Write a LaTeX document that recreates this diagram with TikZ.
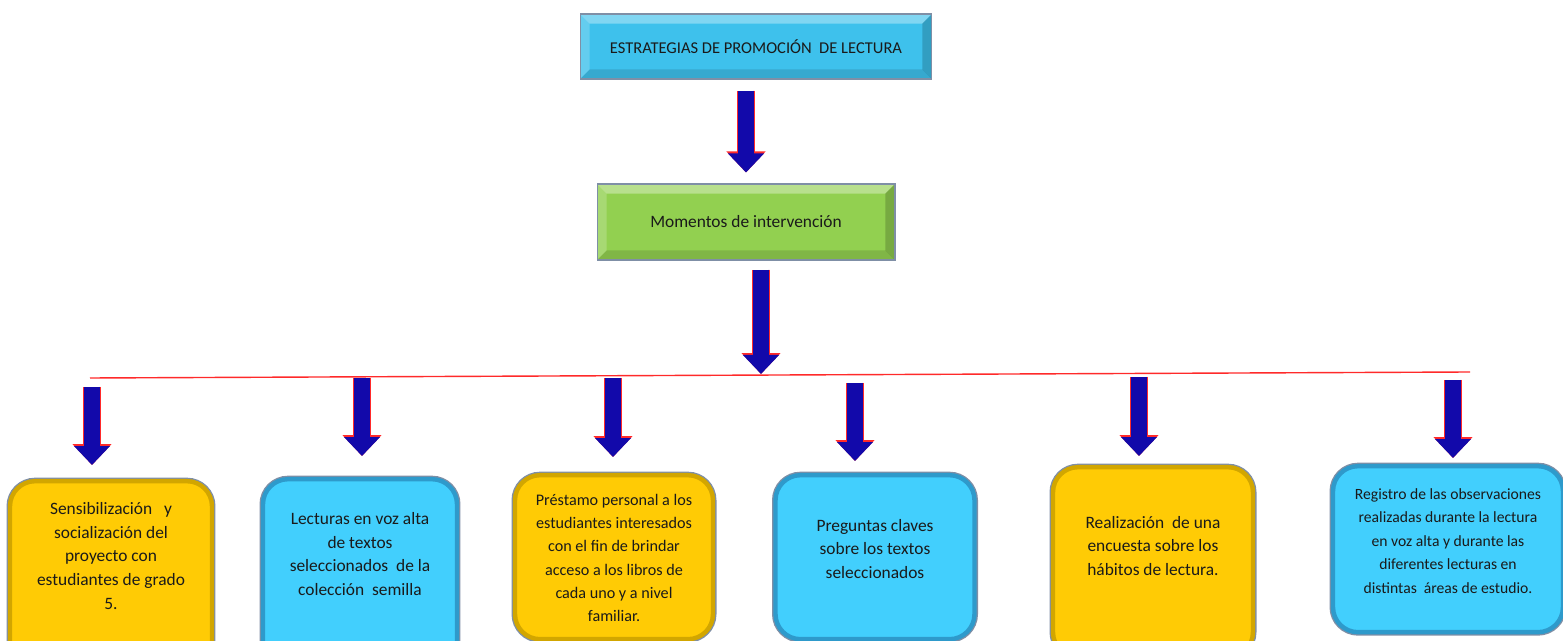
\documentclass[tikz,border=0pt]{standalone}
\usepackage{fontspec}
\setmainfont{Carlito}
\usetikzlibrary{calc,arrows.meta}

\definecolor{titleblue}{HTML}{3EC1EC}
\definecolor{momentgreen}{HTML}{92D050}
\definecolor{boxyellow}{HTML}{FFCB05}
\definecolor{yellowedge}{HTML}{D2A600}
\definecolor{boxblue}{HTML}{42CFFD}
\definecolor{blueedge}{HTML}{2E9ACB}
\definecolor{edgegray}{HTML}{7F8FA6}
\definecolor{arrowblue}{HTML}{1209AA}
\definecolor{arrowred}{HTML}{FF2A2A}
\definecolor{inktext}{HTML}{1A1A1A}

\tikzset{
    bevel/.style = {
        path picture = {
            \coordinate (bsw) at (path picture bounding box.south west);
            \coordinate (bne) at (path picture bounding box.north east);
            \fill[white, opacity=.35] (bsw |- bne) -- (bne) -- ($(bne)+(-5.5pt,-5.5pt)$) -- ($(bsw |- bne)+(5.5pt,-5.5pt)$) -- cycle;
            \fill[white, opacity=.2] (bsw |- bne) -- (bsw) -- ($(bsw)+(5.5pt,5.5pt)$) -- ($(bsw |- bne)+(5.5pt,-5.5pt)$) -- cycle;
            \fill[black, opacity=.12] (bsw) -- (bsw -| bne) -- ($(bsw -| bne)+(-5.5pt,5.5pt)$) -- ($(bsw)+(5.5pt,5.5pt)$) -- cycle;
            \fill[black, opacity=.18] (bne) -- (bsw -| bne) -- ($(bsw -| bne)+(-5.5pt,5.5pt)$) -- ($(bne)+(-5.5pt,-5.5pt)$) -- cycle;
        }
    },
    titlebox/.style = {
        shape=rectangle,
        bevel,
        fill=titleblue,
        draw=edgegray,
        line width=0.6pt,
        minimum width=7.04cm,
        minimum height=1.3cm,
        text=inktext,
        font=\fontsize{9.4}{11}\selectfont
    },
    momentbox/.style = {
        shape=rectangle,
        bevel,
        fill=momentgreen,
        draw=edgegray,
        line width=0.6pt,
        minimum width=5.96cm,
        minimum height=1.52cm,
        text=inktext,
        font=\fontsize{9.9}{12}\selectfont
    },
    yellowbox/.style = {
        shape=rectangle,
        rounded corners=0.5cm,
        fill=boxyellow,
        draw=yellowedge,
        line width=2.5pt,
        preaction={draw=edgegray, line width=4pt}
    },
    bluebox/.style = {
        shape=rectangle,
        rounded corners=0.5cm,
        fill=boxblue,
        draw=blueedge,
        line width=2.5pt,
        preaction={draw=edgegray, line width=4pt}
    },
    boxtext/.style = {
        align=center,
        text=inktext,
        font=\fontsize{9.9}{13.6}\selectfont
    },
    blockarrow/.style = {
        draw=arrowblue,
        line width=0.32cm,
        -{Triangle[width=0.7cm, length=0.38cm]},
        preaction={draw=arrowred, line width=0.35cm, -{Triangle[width=0.76cm, length=0.42cm]}}
    },
    barline/.style = {
        draw=arrowred,
        line width=0.8pt
    },
}

\begin{document}
\begin{tikzpicture}[x=0.02cm, y=-0.02cm]
    \useasboundingbox (0,0) rectangle (1563,641);

    \node[titlebox] (title) at (756,46.5) {ESTRATEGIAS DE PROMOCIÓN~ DE LECTURA};
    \node[momentbox] (moments) at (746,222) {Momentos de intervención};

    \node[yellowbox, minimum width=4.04cm, minimum height=3.8cm, anchor=north] (b1) at (111,479) {};
    \node[bluebox, minimum width=3.88cm, minimum height=3.8cm, anchor=north] (b2) at (360,477) {};
    \node[yellowbox, minimum width=3.96cm, minimum height=3.28cm, anchor=north] (b3) at (614,473) {};
    \node[bluebox, minimum width=3.98cm, minimum height=3.28cm, anchor=north] (b4) at (875,473) {};
    \node[yellowbox, minimum width=4cm, minimum height=3.8cm, anchor=north] (b5) at (1153,465) {};
    \node[bluebox, minimum width=4.6cm, minimum height=3.32cm, anchor=north] (b6) at (1448,464) {};

    \node[boxtext] (b1text) at (111,556) {Sensibilización~~ y\\socialización del\\proyecto con\\estudiantes de grado\\5.};
    \node[boxtext] (b2text) at (360,554) {Lecturas en voz alta\\de textos\\seleccionados~ de la\\colección~ semilla};
    \node[boxtext, font=\fontsize{9.2}{13.2}\selectfont] (b3text) at (614,558) {Préstamo personal a los\\estudiantes interesados\\con el fin de brindar\\acceso a los libros de\\cada uno y a nivel\\familiar.};
    \node[boxtext] (b4text) at (875,549) {Preguntas claves\\sobre los textos\\seleccionados};
    \node[boxtext] (b5text) at (1153,546) {Realización~ de una\\encuesta sobre los\\hábitos de lectura.};
    \node[boxtext, font=\fontsize{8.9}{13.4}\selectfont] (b6text) at (1448,541) {Registro de las observaciones\\realizadas durante la lectura\\en voz alta y durante las\\diferentes lecturas en\\distintas~ áreas de estudio.};

    % connectors
    \coordinate (barL) at (90,378);
    \coordinate (barR) at (1470,372);
    \coordinate (hub) at (761,374);
    \path[barline] (barL) -- (barR);

    \draw[blockarrow, shorten <=0.22cm, shorten >=0.22cm] (title.south -| moments.north) -- (moments.north);
    \draw[blockarrow, shorten <=0.18cm] (moments.south -| hub) -- (hub);

    \foreach \i/\x/\y/\g in {1/92/387/0.28cm, 2/362/378/0.42cm, 3/613/378/0.32cm, 4/855/383/0.24cm, 5/1139/377/0.18cm, 6/1453/380/0.12cm}
        \draw[blockarrow, shorten >=\g] (\x,\y) coordinate (s\i) -- (s\i |- b\i.north);
\end{tikzpicture}
\end{document}
